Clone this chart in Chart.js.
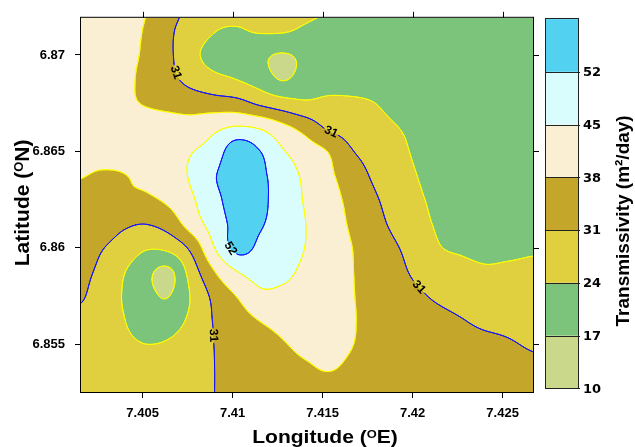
<!DOCTYPE html>
<html>
<head>
<meta charset="utf-8">
<script src="https://cdn.jsdelivr.net/npm/chart.js@4.4.1/dist/chart.umd.min.js"></script>
<style>
  html, body { margin: 0; padding: 0; background: #fff; }
  #wrap { width: 635px; height: 447px; }
</style>
</head>
<body>
<div id="wrap"><canvas id="map" width="635" height="447"></canvas></div>
<script>
// grid nodes of the transmissivity surface
const longitudes = [7.40150, 7.40275, 7.40400, 7.40525, 7.40650, 7.40775, 7.40900, 7.41025,
    7.41150, 7.41275, 7.41400, 7.41525, 7.41650, 7.41775, 7.41900, 7.42025,
    7.42150, 7.42275, 7.42400, 7.42525, 7.42650, 7.42775];
const latitudes = [6.85250, 6.85375, 6.85500, 6.85625, 6.85750, 6.85875, 6.86000, 6.86125,
    6.86250, 6.86375, 6.86500, 6.86625, 6.86750, 6.86875, 6.87000, 6.87125, 6.87250];

// m2/day, one row per latitude (south to north)
const transmissivity = [
    [27.0, 26.8, 26.8, 27.0, 27.6, 28.8, 31.0, 32.7, 33.8, 34.6, 35.3, 35.8, 35.5, 34.3, 33.0, 31.8, 31.3, 31.3, 32.0, 32.4, 32.5, 32.5],
    [27.2, 26.8, 26.4, 26.2, 26.6, 28.2, 31.0, 33.0, 34.5, 35.8, 37.2, 38.3, 37.2, 35.5, 34.0, 33.0, 32.2, 32.2, 32.4, 32.3, 32.0, 31.8],
    [27.5, 26.5, 25.3, 24.0, 24.8, 27.8, 31.1, 33.2, 35.3, 37.5, 39.3, 39.6, 38.3, 36.5, 35.2, 34.3, 33.7, 33.0, 32.3, 31.5, 30.6, 30.0],
    [29.2, 27.5, 24.1, 20.2, 20.8, 25.7, 31.5, 34.9, 38.2, 40.0, 40.8, 40.0, 38.5, 36.8, 35.4, 34.0, 32.6, 31.2, 29.8, 29.4, 28.8, 28.5],
    [31.8, 27.7, 23.4, 18.7, 17.0, 24.8, 32.8, 38.3, 43.4, 43.5, 42.3, 40.5, 38.5, 36.3, 34.1, 32.0, 29.9, 28.4, 27.3, 27.2, 26.9, 26.7],
    [32.7, 29.4, 24.2, 18.5, 15.8, 27.5, 37.8, 44.8, 47.5, 46.5, 43.8, 41.2, 38.5, 35.7, 32.9, 29.8, 27.2, 25.7, 24.7, 24.9, 25.1, 25.3],
    [34.1, 31.3, 28.3, 24.6, 25.9, 33.0, 45.0, 53.8, 50.8, 48.2, 45.0, 41.7, 38.4, 35.1, 31.7, 28.3, 24.3, 23.3, 22.8, 23.0, 23.4, 23.6],
    [35.4, 34.1, 32.0, 31.2, 34.2, 41.5, 48.1, 54.0, 52.6, 49.2, 45.2, 41.3, 37.5, 33.5, 29.7, 26.1, 23.2, 22.3, 21.8, 21.9, 22.0, 22.0],
    [36.8, 37.0, 37.3, 37.0, 39.5, 44.3, 49.9, 55.5, 53.6, 49.0, 44.6, 40.7, 36.6, 32.2, 28.5, 24.9, 22.8, 22.0, 21.5, 21.3, 21.2, 21.0],
    [38.2, 37.6, 37.9, 39.5, 42.7, 45.8, 51.5, 56.5, 53.5, 48.6, 43.9, 39.6, 34.9, 30.4, 27.1, 24.0, 22.3, 21.6, 21.3, 21.1, 21.0, 21.0],
    [39.5, 39.6, 40.0, 41.0, 42.5, 44.8, 48.0, 56.5, 52.2, 45.7, 41.5, 38.0, 31.8, 28.6, 25.8, 23.2, 21.8, 21.2, 21.0, 20.8, 20.6, 20.5],
    [40.0, 40.0, 40.1, 40.2, 40.3, 40.8, 43.5, 45.5, 44.2, 39.8, 35.5, 30.2, 28.3, 26.3, 24.3, 22.8, 21.8, 21.3, 21.0, 20.8, 20.7, 20.6],
    [40.5, 39.8, 38.8, 37.6, 36.5, 35.1, 34.1, 33.3, 29.8, 27.0, 25.0, 25.4, 25.1, 24.2, 22.5, 21.6, 21.2, 21.0, 20.8, 20.6, 20.5, 20.5],
    [41.0, 40.2, 39.3, 36.2, 32.8, 28.5, 25.7, 23.8, 20.8, 16.6, 19.5, 21.3, 21.5, 21.5, 21.3, 21.0, 20.8, 20.7, 20.6, 20.5, 20.5, 20.5],
    [41.5, 40.6, 39.6, 36.8, 32.0, 25.7, 21.8, 21.0, 18.3, 16.6, 18.3, 20.6, 21.0, 21.0, 21.0, 20.9, 20.8, 20.8, 20.8, 20.8, 20.8, 20.8],
    [41.5, 40.5, 39.5, 37.3, 32.0, 27.8, 24.2, 23.6, 24.5, 24.5, 23.2, 22.2, 21.5, 21.2, 21.0, 20.9, 20.8, 20.8, 20.8, 20.8, 20.8, 20.8],
    [41.8, 41.0, 39.8, 38.1, 33.5, 29.5, 26.5, 25.5, 25.5, 25.5, 25.2, 24.5, 23.2, 22.0, 21.3, 21.0, 20.8, 20.8, 20.8, 20.8, 20.8, 20.8],
];

const levels = [10, 17, 24, 31, 38, 45, 52, 59];
const bandColors = ["#c9d88b", "#7cc47c", "#e0d040", "#c4a62a", "#faefd2", "#d9fdfd", "#52d2f0"];
const lineLevels = [17, 24, 31, 38, 45, 52];
const lineColors = { 17: "#ffff00", 24: "#ffff00", 31: "#1010ff", 38: "#ffff00", 45: "#ffff00", 52: "#1010ff" };
const barTicks = [10, 17, 24, 31, 38, 45, 52];

const lonTicks = [7.405, 7.41, 7.415, 7.42, 7.425];
const latTicks = [6.855, 6.86, 6.865, 6.87];

const contourLabels = [
    { level: 31, lon: 7.40700, lat: 6.86913 },
    { level: 31, lon: 7.41544, lat: 6.86598 },
    { level: 31, lon: 7.42033, lat: 6.85794 },
    { level: 31, lon: 7.40894, lat: 6.85547 },
    { level: 52, lon: 7.40989, lat: 6.85995 },
];

const FONT_NARROW = "'Liberation Sans Narrow', 'Arial Narrow', 'Liberation Sans', Arial, sans-serif";
const FONT_SANS = "'Liberation Sans', Arial, sans-serif";
const FONT_WIDE = "'DejaVu Sans', Verdana, sans-serif";

function cr(p0, p1, p2, p3, t) {
    return p1 + 0.5 * t * (p2 - p0 + t * (2 * p0 - 5 * p1 + 4 * p2 - p3 + t * (3 * (p1 - p2) + p3 - p0)));
}

// bicubic (Catmull-Rom) surface through the grid nodes
function fieldAt(lon, lat) {
    const nx = longitudes.length, ny = latitudes.length;
    const gx = (lon - longitudes[0]) / (longitudes[1] - longitudes[0]);
    const gy = (lat - latitudes[0]) / (latitudes[1] - latitudes[0]);
    const i = Math.max(0, Math.min(nx - 2, Math.floor(gx)));
    const j = Math.max(0, Math.min(ny - 2, Math.floor(gy)));
    const tx = gx - i, ty = gy - j;
    const ci = k => Math.max(0, Math.min(nx - 1, k));
    const rv = [];
    for (let r = -1; r <= 2; r++) {
        const row = transmissivity[Math.max(0, Math.min(ny - 1, j + r))];
        rv.push(cr(row[ci(i - 1)], row[ci(i)], row[ci(i + 1)], row[ci(i + 2)], tx));
    }
    return cr(rv[0], rv[1], rv[2], rv[3], ty);
}

function bandIndex(v) {
    for (let k = levels.length - 2; k >= 0; k--) if (v >= levels[k]) return k;
    return 0;
}

function hexRgb(h) {
    const n = parseInt(h.slice(1), 16);
    return [(n >> 16) & 255, (n >> 8) & 255, n & 255];
}

function cellSegments(v0, v1, v2, v3, lev, X, Y, out) {
    const p = [];
    const edge = (va, vb, xa, ya, xb, yb) => {
        if ((va < lev) !== (vb < lev)) {
            const t = (lev - va) / (vb - va);
            p.push(xa + t * (xb - xa), ya + t * (yb - ya));
        }
    };
    edge(v0, v1, X, Y, X + 1, Y);
    edge(v1, v2, X + 1, Y, X + 1, Y + 1);
    edge(v3, v2, X, Y + 1, X + 1, Y + 1);
    edge(v0, v3, X, Y, X, Y + 1);
    if (p.length >= 4) out.push(p[0], p[1], p[2], p[3]);
    if (p.length === 8) out.push(p[4], p[5], p[6], p[7]);
}

let cache = null;

function buildField(chart) {
    const { chartArea: a, scales: { x, y } } = chart;
    const L = Math.round(a.left), T = Math.round(a.top);
    const w = Math.round(a.right) - L, h = Math.round(a.bottom) - T;
    const cw = w + 1;
    const lons = new Float64Array(cw);
    for (let c = 0; c <= w; c++) lons[c] = x.getValueForPixel(L + c);
    const val = new Float32Array(cw * (h + 1));
    for (let r = 0; r <= h; r++) {
        const lat = y.getValueForPixel(T + r);
        for (let c = 0; c <= w; c++) val[r * cw + c] = fieldAt(lons[c], lat);
    }

    const off = document.createElement("canvas");
    off.width = w;
    off.height = h;
    const octx = off.getContext("2d");
    const img = octx.createImageData(w, h);
    const rgb = bandColors.map(hexRgb);
    for (let r = 0; r < h; r++) {
        for (let c = 0; c < w; c++) {
            const k = r * cw + c;
            const v = (val[k] + val[k + 1] + val[k + cw] + val[k + cw + 1]) / 4;
            const col = rgb[bandIndex(v)];
            const o = (r * w + c) * 4;
            img.data[o] = col[0];
            img.data[o + 1] = col[1];
            img.data[o + 2] = col[2];
            img.data[o + 3] = 255;
        }
    }
    octx.putImageData(img, 0, 0);

    const segs = {};
    for (const lev of lineLevels) segs[lev] = [];
    for (let r = 0; r < h; r++) {
        for (let c = 0; c < w; c++) {
            const k = r * cw + c;
            const v0 = val[k], v1 = val[k + 1], v2 = val[k + cw + 1], v3 = val[k + cw];
            const mn = Math.min(v0, v1, v2, v3), mx = Math.max(v0, v1, v2, v3);
            for (const lev of lineLevels) {
                if (lev < mn || lev > mx) continue;
                cellSegments(v0, v1, v2, v3, lev, L + c, T + r, segs[lev]);
            }
        }
    }
    return { key: `${L},${T},${w},${h}`, L, T, w, h, off, segs };
}

function placeLabels(chart, field) {
    const { x, y } = chart.scales;
    const f = (X, Y) => fieldAt(x.getValueForPixel(X), y.getValueForPixel(Y));
    const out = [];
    for (const lab of contourLabels) {
        const px = x.getPixelForValue(lab.lon), py = y.getPixelForValue(lab.lat);
        const s = field.segs[lab.level];
        let best = Infinity, qx = px, qy = py;
        for (let k = 0; k < s.length; k += 4) {
            const mx = (s[k] + s[k + 2]) / 2, my = (s[k + 1] + s[k + 3]) / 2;
            const d = (mx - px) ** 2 + (my - py) ** 2;
            if (d < best) { best = d; qx = mx; qy = my; }
        }
        const gx = f(qx + 2, qy) - f(qx - 2, qy);
        const gy = f(qx, qy + 2) - f(qx, qy - 2);
        let ang = Math.atan2(gx, -gy);
        if (ang > Math.PI / 2) ang -= Math.PI;
        if (ang < -Math.PI / 2) ang += Math.PI;
        out.push({ level: lab.level, x: qx, y: qy, angle: ang, gap: 8 });
    }
    return out;
}

const contourPlugin = {
    id: "contour",
    beforeDatasetsDraw(chart) {
        const a = chart.chartArea;
        const key = `${Math.round(a.left)},${Math.round(a.top)},${Math.round(a.right) - Math.round(a.left)},${Math.round(a.bottom) - Math.round(a.top)}`;
        if (!cache || cache.key !== key) cache = buildField(chart);
        const ctx = chart.ctx;
        ctx.save();
        ctx.drawImage(cache.off, cache.L, cache.T);
        ctx.beginPath();
        ctx.rect(cache.L, cache.T, cache.w, cache.h);
        ctx.clip();

        const placed = placeLabels(chart, cache);
        ctx.lineWidth = 1;
        ctx.lineCap = "round";
        for (const lev of lineLevels) {
            const s = cache.segs[lev];
            const gaps = placed.filter(p => p.level === lev);
            ctx.beginPath();
            for (let k = 0; k < s.length; k += 4) {
                const mx = (s[k] + s[k + 2]) / 2, my = (s[k + 1] + s[k + 3]) / 2;
                if (gaps.some(p => Math.hypot(mx - p.x, my - p.y) < p.gap)) continue;
                ctx.moveTo(s[k], s[k + 1]);
                ctx.lineTo(s[k + 2], s[k + 3]);
            }
            ctx.strokeStyle = lineColors[lev];
            ctx.stroke();
        }

        ctx.fillStyle = "#000";
        ctx.font = `bold 12px ${FONT_NARROW}`;
        ctx.textAlign = "center";
        ctx.textBaseline = "middle";
        for (const p of placed) {
            ctx.save();
            ctx.translate(p.x, p.y);
            ctx.rotate(p.angle);
            ctx.fillText(String(p.level), 0, 0);
            ctx.restore();
        }
        ctx.restore();
    },
    afterDraw(chart) {
        const { ctx, chartArea: a, scales: { x, y, cb } } = chart;
        ctx.save();
        ctx.strokeStyle = "#000";
        ctx.lineWidth = 1;
        ctx.strokeRect(a.left - 0.5, a.top - 0.5, a.right - a.left + 1, a.bottom - a.top + 1);

        // tick marks on the top and right edges
        ctx.beginPath();
        for (const v of lonTicks) {
            const px = Math.round(x.getPixelForValue(v)) + 0.5;
            ctx.moveTo(px, a.top);
            ctx.lineTo(px, a.top - 6);
        }
        for (const v of latTicks) {
            const py = Math.round(y.getPixelForValue(v)) + 0.5;
            ctx.moveTo(a.right, py);
            ctx.lineTo(a.right + 6, py);
        }
        ctx.stroke();

        // colour key
        const bx = Math.round(a.right) + 13, bw = 32;
        for (let k = 0; k < bandColors.length; k++) {
            const y0 = cb.getPixelForValue(levels[k]);
            const y1 = cb.getPixelForValue(levels[k + 1]);
            ctx.fillStyle = bandColors[k];
            ctx.fillRect(bx, y1, bw, y0 - y1);
        }
        const top = cb.getPixelForValue(levels[levels.length - 1]);
        const bottom = cb.getPixelForValue(levels[0]);
        ctx.strokeStyle = "#222";
        ctx.beginPath();
        for (const v of barTicks) {
            const py = Math.round(cb.getPixelForValue(v)) + 0.5;
            ctx.moveTo(bx, py);
            ctx.lineTo(bx + bw + 2, py);
        }
        ctx.stroke();
        ctx.strokeRect(bx - 0.5, Math.round(top) - 0.5, bw + 1, Math.round(bottom) - Math.round(top) + 1);
        ctx.fillStyle = "#000";
        ctx.font = `bold 13px ${FONT_WIDE}`;
        ctx.textAlign = "left";
        ctx.textBaseline = "middle";
        for (const v of barTicks) ctx.fillText(String(v), bx + bw + 5, cb.getPixelForValue(v) + 1);

        // titles
        const midX = (a.left + a.right) / 2, midY = (a.top + a.bottom) / 2;
        drawTitle(ctx, [{ t: "Longitude (" }, { t: "O", sup: true }, { t: "E)" }], 18, midX + 18, 443, 0, 1.17);
        drawTitle(ctx, [{ t: "Latitude (" }, { t: "O", sup: true }, { t: "N)" }], 21, 29, midY - 2, -Math.PI / 2, 1);
        drawTitle(ctx, [{ t: "Transmissivity (m\u00b2/day)" }], 19, 629, midY + 16, -Math.PI / 2, 1);
        ctx.restore();
    },
};

function drawTitle(ctx, parts, size, px, py, rot, sx) {
    ctx.save();
    ctx.translate(px, py);
    ctx.rotate(rot);
    ctx.scale(sx, 1);
    ctx.fillStyle = "#000";
    ctx.textAlign = "left";
    ctx.textBaseline = "alphabetic";
    const fontFor = p => `bold ${p.sup ? Math.round(size * 0.62) : size}px ${FONT_SANS}`;
    let total = 0;
    for (const p of parts) {
        ctx.font = fontFor(p);
        total += ctx.measureText(p.t).width;
    }
    let cx = -total / 2;
    for (const p of parts) {
        ctx.font = fontFor(p);
        ctx.fillText(p.t, cx, p.sup ? -size * 0.3 : 0);
        cx += ctx.measureText(p.t).width;
    }
    ctx.restore();
}

const tickFont = { family: FONT_NARROW, size: 13, weight: "bold" };
const fmt = v => String(+Number(v).toFixed(3));

new Chart(document.getElementById("map"), {
    type: "scatter",
    data: { datasets: [] },
    options: {
        responsive: false,
        animation: false,
        devicePixelRatio: 1,
        layout: { padding: { left: 0, right: 102, top: 16, bottom: 0 } },
        plugins: { legend: { display: false }, tooltip: { enabled: false } },
        scales: {
            x: {
                type: "linear",
                min: 7.401578,
                max: 7.426689,
                afterBuildTicks: s => { s.ticks = lonTicks.map(v => ({ value: v })); },
                afterFit: s => { s.height = 55; },
                grid: { drawOnChartArea: false, drawTicks: true, tickLength: 6, color: "#000" },
                border: { display: false },
                ticks: { color: "#000", font: tickFont, padding: 8, maxRotation: 0, autoSkip: false, callback: fmt },
            },
            y: {
                type: "linear",
                min: 6.852523,
                max: 6.871925,
                afterBuildTicks: s => { s.ticks = latTicks.map(v => ({ value: v })); },
                afterFit: s => { s.width = 81; },
                grid: { drawOnChartArea: false, drawTicks: true, tickLength: 6, color: "#000" },
                border: { display: false },
                ticks: { color: "#000", font: tickFont, padding: 10, autoSkip: false, callback: fmt },
            },
            cb: {
                type: "linear",
                axis: "y",
                position: "right",
                display: false,
                min: 9.51,
                max: 59.17,
            },
        },
    },
    plugins: [contourPlugin],
});
</script>
</body>
</html>
